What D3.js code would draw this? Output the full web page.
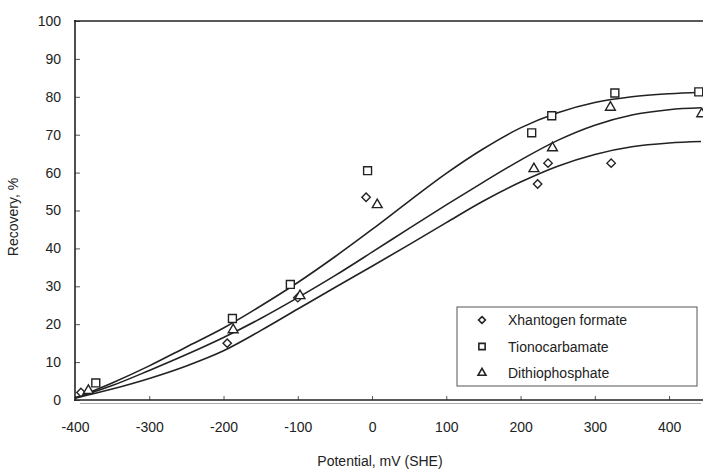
<!DOCTYPE html>
<meta charset="utf-8">
<head>
    <title>Recovery vs Potential</title>
    <script src="https://cdn.jsdelivr.net/npm/d3@7"></script>
    <style>
        body { margin: 0; background: #fff; }
        text { font-family: "Liberation Sans", Arial, sans-serif; fill: #222; }
    </style>
</head>
<body>
<script>

var xanthX = [-392, -195, -100, -8, 223, 237, 322]
var xanthY = [2, 15, 27, 53.5, 57, 62.5, 62.5]
var tionoX = [-372, -188, -110, -6, 215, 242, 327, 440]
var tionoY = [4.5, 21.5, 30.5, 60.5, 70.5, 75, 81, 81.3]
var dithioX = [-382, -187, -97, 7, 218, 243, 321, 444]
var dithioY = [2.5, 18.5, 27.5, 51.5, 61, 66.5, 77.2, 75.5]

// fitted curves
var curveX = [-400, -350, -300, -250, -200, -150, -100, -50, 0, 50, 100, 150, 200, 250, 300, 350, 400, 443]
var tionoCurve = [0.5, 4.5, 9, 14, 19, 24.8, 31, 37.8, 45, 52.5, 59.8, 66.3, 71.8, 75.8, 78.5, 80, 80.8, 81.2]
var dithioCurve = [0.5, 3.8, 7.8, 12, 16.5, 21.5, 27, 32.8, 39, 45.3, 51.5, 57.5, 63.3, 68.5, 72.5, 75.2, 76.6, 77.1]
var xanthCurve = [0.5, 2.9, 5.7, 9, 13, 18.3, 24, 29.7, 35.3, 41, 46.8, 52.5, 57.5, 61.7, 64.8, 66.8, 67.8, 68.2]

var legendNames = ["Xhantogen formate", "Tionocarbamate", "Dithiophosphate"]
var xTicks = [-400, -300, -200, -100, 0, 100, 200, 300, 400]
var yTicks = [0, 10, 20, 30, 40, 50, 60, 70, 80, 90, 100]

var w = 703
var h = 469
var ink = "#222"

var svg = d3.select("body").append("svg").attr("width", w).attr("height", h)

var x = d3.scaleLinear().domain([-400, 443]).range([75, 701])
var y = d3.scaleLinear().domain([0, 100]).range([400, 21])

// axes (ticks point inward)
svg.append("g")
    .attr("transform", "translate(0,400)")
    .call(d3.axisBottom(x).tickValues(xTicks).tickSize(-4).tickPadding(22).tickFormat(function(d) {return d}))
    .call(function(g) {
        g.select(".domain").remove()
        g.selectAll("line").attr("stroke", "#555")
        g.selectAll("text").style("font-size", "14px").attr("fill", ink)
    })

svg.append("g")
    .attr("transform", "translate(75,0)")
    .call(d3.axisLeft(y).tickValues(yTicks).tickSize(-5).tickPadding(14))
    .call(function(g) {
        g.select(".domain").remove()
        g.selectAll("line").attr("stroke", "#555")
        g.selectAll("text").style("font-size", "14px").attr("fill", ink)
    })

// frame lines
svg.append("line").attr("x1", 75).attr("x2", 75).attr("y1", 20).attr("y2", 401)
    .attr("stroke", ink).attr("stroke-width", 1.6)
svg.append("line").attr("x1", 74).attr("x2", 703).attr("y1", 21).attr("y2", 21)
    .attr("stroke", ink).attr("stroke-width", 1.4)
svg.append("line").attr("x1", 74).attr("x2", 703).attr("y1", 400).attr("y2", 400)
    .attr("stroke", ink).attr("stroke-width", 1.6)
svg.append("line").attr("x1", 80).attr("x2", 701).attr("y1", 403.5).attr("y2", 403.5)
    .attr("stroke", "#aaa").attr("stroke-width", 1)

// axis titles
svg.append("text")
    .attr("x", 380).attr("y", 466)
    .attr("text-anchor", "middle")
    .style("font-size", "14px")
    .text("Potential, mV (SHE)")
svg.append("text")
    .attr("transform", "translate(18,217) rotate(-90)")
    .attr("text-anchor", "middle")
    .style("font-size", "14px")
    .text("Recovery, %")

// curves
var line = d3.line()
    .x(function(d) {return x(d[0])})
    .y(function(d) {return y(d[1])})
    .curve(d3.curveCatmullRom.alpha(0.5))

var curves = [tionoCurve, dithioCurve, xanthCurve]
curves.forEach(function(c) {
    svg.append("path")
        .datum(curveX.map(function(v, i) {return [v, c[i]]}))
        .attr("d", line)
        .attr("fill", "none")
        .attr("stroke", ink)
        .attr("stroke-width", 1.6)
})

// marker shapes
var diamond = d3.symbol().type(d3.symbolDiamond2).size(45)
var square = d3.symbol().type(d3.symbolSquare2).size(80)
var triangle = d3.symbol().type(d3.symbolTriangle2).size(70)

function drawPoints(xs, ys, sym) {
    svg.append("g")
        .selectAll("path")
        .data(xs.map(function(v, i) {return [v, ys[i]]})).enter()
        .append("path")
        .attr("transform", function(d) {return "translate(" + x(d[0]) + "," + y(d[1]) + ")"})
        .attr("d", sym)
        .attr("fill", "#fff")
        .attr("stroke", ink)
        .attr("stroke-width", 1.4)
}
drawPoints(xanthX, xanthY, diamond)
drawPoints(tionoX, tionoY, square)
drawPoints(dithioX, dithioY, triangle)

// legend
var lg = svg.append("g")
lg.append("rect")
    .attr("x", 457).attr("y", 307).attr("width", 240).attr("height", 79)
    .attr("fill", "#fff").attr("stroke", "#555").attr("stroke-width", 1)
var syms = [d3.symbol().type(d3.symbolDiamond2).size(30),
            d3.symbol().type(d3.symbolSquare2).size(50),
            d3.symbol().type(d3.symbolTriangle2).size(45)]
legendNames.forEach(function(name, i) {
    var cy = 320 + i * 26.5
    lg.append("path")
        .attr("transform", "translate(482," + cy + ")")
        .attr("d", syms[i])
        .attr("fill", "#fff").attr("stroke", ink).attr("stroke-width", 1.6)
    lg.append("text")
        .attr("x", 508).attr("y", cy + 5)
        .style("font-size", "14px")
        .text(name)
})

</script>
</body>
</html>
